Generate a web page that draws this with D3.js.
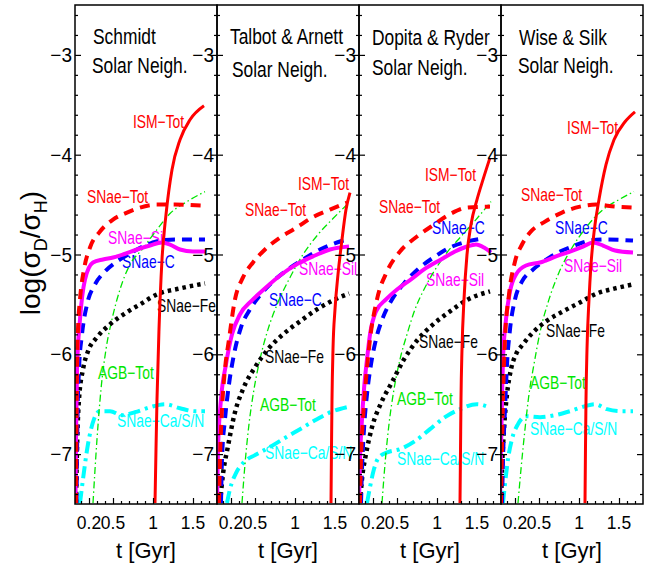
<!DOCTYPE html>
<html>
<head>
<meta charset="utf-8">
<script src="https://cdn.jsdelivr.net/npm/d3@7"></script>
<style>
  html, body { margin: 0; padding: 0; background: #fff; }
  svg { display: block; font-family: "Liberation Sans", Arial, Helvetica, sans-serif; }
</style>
</head>
<body>
<svg id="chart" width="661" height="571"></svg>
<script>
// ---- data: deuterium abundance log(sigma_D/sigma_H) vs time [Gyr] ----
const panelTitles = [
  ["Schmidt", "Solar Neigh."],
  ["Talbot & Arnett", "Solar Neigh."],
  ["Dopita & Ryder", "Solar Neigh."],
  ["Wise & Silk", "Solar Neigh."]
];
const seriesNames = ["ISM−Tot", "SNae−Tot", "SNae−Sil", "SNae−C", "SNae−Fe", "AGB−Tot", "SNae−Ca/S/N"];
const xTickValues = [0.2, 0.5, 1, 1.5];
const xTickLabels = ["0.2", "0.5", "1", "1.5"];
const yTickValues = [-7, -6, -5, -4, -3];

// Schmidt
const schmidtIsmTot = [[1.025,-7.49],[1.0375,-6.95],[1.05,-6.45],[1.075,-5.75],[1.1125,-5.05],[1.1625,-4.6],[1.2375,-4.15],[1.3375,-3.85],[1.4625,-3.65],[1.6375,-3.51]];
const schmidtSnTot = [[0.0375,-7.49],[0.044,-6.65],[0.05,-6.15],[0.0625,-5.75],[0.0875,-5.45],[0.1375,-5.15],[0.2125,-4.93],[0.3375,-4.77],[0.5,-4.65],[0.675,-4.58],[0.8375,-4.53],[1.05,-4.5],[1.275,-4.5],[1.65,-4.51]];
const schmidtSnSil = [[0.031,-7.49],[0.0375,-6.85],[0.05,-6.15],[0.0875,-5.65],[0.15,-5.25],[0.25,-5.08],[0.375,-5.05],[0.5,-5.03],[0.625,-5.0],[0.8,-4.95],[0.9625,-4.91],[1.1125,-4.88],[1.2125,-4.9],[1.3375,-4.95],[1.5,-4.97],[1.65,-4.97]];
const schmidtSnC = [[0.044,-7.49],[0.056,-6.65],[0.075,-6.15],[0.1125,-5.8],[0.175,-5.5],[0.275,-5.3],[0.4,-5.17],[0.55,-5.07],[0.7125,-4.99],[0.9,-4.91],[1.0875,-4.86],[1.275,-4.85],[1.65,-4.85]];
const schmidtSnFe = [[0.0375,-7.49],[0.05,-6.95],[0.075,-6.45],[0.125,-6.15],[0.1875,-5.97],[0.3,-5.83],[0.4625,-5.7],[0.65,-5.59],[0.8375,-5.5],[1.05,-5.4],[1.3375,-5.34],[1.65,-5.29]];
const schmidtAgbTot = [[0.25,-7.49],[0.3,-6.85],[0.35,-6.35],[0.4125,-5.95],[0.4875,-5.65],[0.5875,-5.35],[0.7125,-5.1],[0.8625,-4.95],[1.05,-4.75],[1.2125,-4.59],[1.425,-4.47],[1.65,-4.37]];
const schmidtSnCaSN = [[0.0875,-7.49],[0.125,-7.25],[0.1875,-6.9],[0.2625,-6.65],[0.3375,-6.57],[0.4625,-6.57],[0.6125,-6.61],[0.775,-6.58],[0.9625,-6.53],[1.15,-6.5],[1.3375,-6.54],[1.525,-6.57],[1.65,-6.57]];

// Talbot & Arnett
const talbotIsmTot = [[1.45,-7.49],[1.456,-6.95],[1.4625,-6.45],[1.475,-5.95],[1.5,-5.55],[1.5375,-5.2],[1.5875,-4.85],[1.6375,-4.55],[1.6875,-4.38]];
const talbotSnTot = [[0.05,-7.49],[0.0625,-7.05],[0.0875,-6.55],[0.125,-6.15],[0.175,-5.85],[0.25,-5.45],[0.35,-5.23],[0.475,-5.08],[0.625,-4.95],[0.8125,-4.83],[1.0,-4.74],[1.2125,-4.63],[1.4375,-4.55],[1.65,-4.48]];
const talbotSnSil = [[0.025,-7.49],[0.0375,-6.95],[0.075,-6.45],[0.1375,-6.1],[0.2125,-5.8],[0.3125,-5.6],[0.4625,-5.46],[0.6375,-5.33],[0.8125,-5.21],[1.0375,-5.09],[1.25,-5.01],[1.4375,-4.95],[1.675,-4.92]];
const talbotSnC = [[0.075,-7.49],[0.0875,-7.05],[0.125,-6.65],[0.175,-6.3],[0.2375,-6.0],[0.325,-5.73],[0.4375,-5.55],[0.5625,-5.41],[0.7125,-5.28],[0.875,-5.17],[1.0625,-5.07],[1.3125,-4.95],[1.5625,-4.87],[1.65,-4.85]];
const talbotSnFe = [[0.0625,-7.49],[0.1,-7.2],[0.1625,-6.92],[0.25,-6.58],[0.35,-6.35],[0.5,-6.13],[0.6625,-5.95],[0.85,-5.8],[1.0625,-5.67],[1.275,-5.55],[1.475,-5.46],[1.675,-5.39]];
const talbotAgbTot = [[0.3375,-7.49],[0.375,-7.1],[0.425,-6.7],[0.4875,-6.35],[0.5625,-6.05],[0.6625,-5.75],[0.7875,-5.48],[0.9375,-5.23],[1.1,-5.0],[1.2875,-4.8],[1.475,-4.64],[1.675,-4.48]];
const talbotSnCaSN = [[0.15,-7.49],[0.1875,-7.35],[0.2625,-7.19],[0.3625,-7.08],[0.5,-7.01],[0.6625,-6.94],[0.85,-6.85],[1.0625,-6.75],[1.275,-6.65],[1.475,-6.57],[1.65,-6.53]];

// Dopita & Ryder
const dopitaIsmTot = [[1.2875,-7.49],[1.294,-6.95],[1.3,-6.45],[1.3125,-5.95],[1.3375,-5.45],[1.375,-5.0],[1.425,-4.7],[1.5,-4.45],[1.575,-4.25],[1.6625,-4.03]];
const dopitaSnTot = [[0.0375,-7.49],[0.05,-7.05],[0.075,-6.65],[0.1125,-6.25],[0.1625,-5.85],[0.25,-5.45],[0.375,-5.17],[0.5375,-4.97],[0.75,-4.82],[0.9625,-4.7],[1.175,-4.59],[1.375,-4.53],[1.6625,-4.52]];
const dopitaSnSil = [[0.025,-7.49],[0.0375,-7.05],[0.0625,-6.65],[0.0875,-6.35],[0.125,-6.05],[0.1625,-5.8],[0.2375,-5.57],[0.3625,-5.45],[0.5,-5.35],[0.675,-5.25],[0.8375,-5.15],[1.05,-5.05],[1.225,-4.97],[1.375,-4.92],[1.4875,-4.9],[1.5875,-4.93],[1.675,-4.98]];
const dopitaSnC = [[0.05,-7.49],[0.0625,-7.15],[0.0875,-6.75],[0.125,-6.4],[0.175,-6.1],[0.2375,-5.85],[0.325,-5.63],[0.4375,-5.45],[0.5875,-5.29],[0.7875,-5.13],[0.975,-5.02],[1.1625,-4.93],[1.375,-4.87],[1.5625,-4.84]];
const dopitaSnFe = [[0.0375,-7.49],[0.0625,-7.25],[0.1125,-7.0],[0.1875,-6.73],[0.3,-6.49],[0.4375,-6.28],[0.5875,-6.05],[0.7625,-5.85],[0.9375,-5.71],[1.1625,-5.57],[1.3875,-5.45],[1.6625,-5.37]];
const dopitaAgbTot = [[0.3125,-7.49],[0.35,-7.1],[0.4,-6.7],[0.4625,-6.35],[0.5375,-6.05],[0.625,-5.8],[0.725,-5.55],[0.8375,-5.35],[0.9625,-5.17],[1.125,-4.98],[1.3,-4.82],[1.4875,-4.65],[1.675,-4.47]];
const dopitaSnCaSN = [[0.125,-7.49],[0.1625,-7.33],[0.2125,-7.15],[0.275,-7.03],[0.3875,-6.98],[0.5375,-6.95],[0.725,-6.87],[0.9125,-6.75],[1.1,-6.63],[1.2875,-6.55],[1.5,-6.5],[1.65,-6.53]];

// Wise & Silk
const wiseIsmTot = [[1.075,-7.49],[1.081,-6.95],[1.0875,-6.45],[1.1,-5.95],[1.125,-5.45],[1.15,-5.1],[1.1875,-4.78],[1.25,-4.45],[1.3375,-4.1],[1.4375,-3.85],[1.575,-3.67],[1.7,-3.57]];
const wiseSnTot = [[0.025,-7.49],[0.0375,-6.95],[0.05,-6.45],[0.075,-5.85],[0.125,-5.4],[0.2,-5.07],[0.2875,-4.9],[0.3875,-4.78],[0.575,-4.67],[0.7875,-4.58],[1.0125,-4.52],[1.2125,-4.5],[1.45,-4.52],[1.675,-4.53]];
const wiseSnSil = [[0.0125,-7.49],[0.025,-6.95],[0.0375,-6.45],[0.05,-6.05],[0.0875,-5.65],[0.1375,-5.37],[0.2125,-5.2],[0.3375,-5.11],[0.5125,-5.08],[0.7125,-5.02],[0.8875,-4.97],[1.05,-4.92],[1.175,-4.88],[1.3,-4.91],[1.45,-4.96],[1.675,-4.98]];
const wiseSnC = [[0.0375,-7.49],[0.05,-7.05],[0.075,-6.55],[0.1,-6.1],[0.1375,-5.75],[0.2,-5.45],[0.2875,-5.27],[0.4125,-5.16],[0.575,-5.06],[0.7625,-4.97],[0.95,-4.91],[1.1375,-4.86],[1.325,-4.85],[1.675,-4.86]];
const wiseSnFe = [[0.025,-7.49],[0.0375,-7.15],[0.0625,-6.75],[0.1,-6.4],[0.15,-6.15],[0.2125,-6.0],[0.3,-5.9],[0.425,-5.78],[0.5875,-5.67],[0.8,-5.57],[1.0125,-5.48],[1.225,-5.39],[1.45,-5.34],[1.675,-5.3]];
const wiseAgbTot = [[0.2375,-7.49],[0.275,-7.15],[0.325,-6.75],[0.375,-6.4],[0.4375,-6.1],[0.5125,-5.78],[0.625,-5.45],[0.75,-5.18],[0.9,-4.95],[1.0875,-4.73],[1.3,-4.55],[1.5,-4.45],[1.6875,-4.37]];
const wiseSnCaSN = [[0.05,-7.49],[0.075,-7.3],[0.1125,-7.05],[0.1625,-6.85],[0.2375,-6.7],[0.3375,-6.62],[0.5125,-6.63],[0.7,-6.61],[0.8875,-6.57],[1.075,-6.52],[1.2,-6.5],[1.35,-6.55],[1.5125,-6.57],[1.675,-6.57]];

// ---- layout & styles ----
const margin = {left: 75, top: 5};
const panelW = 142, panelH = 499;
const xDomain = [0.025, 1.8];
const yDomain = [-7.5, -2.5];

// series order: ISM-Tot, SNae-Tot, SNae-Sil, SNae-C, SNae-Fe, AGB-Tot, SNae-Ca/S/N
const seriesStyle = [
  {color: "#ff0000", width: 3,   dash: null},
  {color: "#ff0000", width: 4,   dash: "10,7"},
  {color: "#ff00ff", width: 4,   dash: null},
  {color: "#0000ff", width: 4,   dash: "10,7"},
  {color: "#000000", width: 4.5, dash: "3.5,4"},
  {color: "#00e600", width: 1.3, dash: "7,3,1.5,3"},
  {color: "#00ffff", width: 4,   dash: "12,5,3,5"}
];
const drawOrder = [6, 5, 4, 3, 2, 1, 0];

const panels = [
  {series: [schmidtIsmTot, schmidtSnTot, schmidtSnSil, schmidtSnC, schmidtSnFe, schmidtAgbTot, schmidtSnCaSN],
   titleOffset: [[18, 39], [17, 68]],
   labelAt: [[0.75,-3.73],[0.175,-4.48],[0.4375,-4.89],[0.6125,-5.14],[1.05,-5.58],[0.3125,-6.25],[0.55,-6.73]]},
  {series: [talbotIsmTot, talbotSnTot, talbotSnSil, talbotSnC, talbotSnFe, talbotAgbTot, talbotSnCaSN],
   titleOffset: [[13, 39], [15, 72]],
   labelAt: [[1.0375,-4.35],[0.375,-4.61],[1.05,-5.21],[0.675,-5.52],[0.625,-6.09],[0.5625,-6.57],[0.625,-7.05]]},
  {series: [dopitaIsmTot, dopitaSnTot, dopitaSnSil, dopitaSnC, dopitaSnFe, dopitaAgbTot, dopitaSnCaSN],
   titleOffset: [[13, 40], [13, 70]],
   labelAt: [[0.85,-4.26],[0.275,-4.58],[0.8625,-5.32],[0.9375,-4.79],[0.775,-5.94],[0.5,-6.51],[0.5,-7.11]]},
  {series: [wiseIsmTot, wiseSnTot, wiseSnSil, wiseSnC, wiseSnFe, wiseAgbTot, wiseSnCaSN],
   titleOffset: [[18, 40], [17, 68]],
   labelAt: [[0.85,-3.79],[0.275,-4.46],[0.8125,-5.18],[0.7,-4.79],[0.5875,-5.83],[0.3875,-6.35],[0.3875,-6.81]]}
];

const svg = d3.select("#chart");

// text with horizontal compression (narrow face look)
function narrowText(g, x, y, str, size, sx, color, anchor) {
  return g.append("text")
    .attr("transform", `translate(${x},${y}) scale(${sx},1)`)
    .attr("font-size", size)
    .attr("fill", color || "#000")
    .attr("text-anchor", anchor || "start")
    .text(str);
}

const y = d3.scaleLinear().domain(yDomain).range([panelH, 0]);
const yMinor = d3.range(-7.4, -2.5, 0.2).map(v => +v.toFixed(1)).filter(v => !yTickValues.includes(v));
const xMinor = d3.range(0.1, 1.75, 0.1).map(v => +v.toFixed(1)).filter(v => !xTickValues.includes(v));

panels.forEach((p, i) => {
  const x0 = margin.left + i * panelW;
  const g = svg.append("g").attr("transform", `translate(${x0},${margin.top})`);
  const x = d3.scaleLinear().domain(xDomain).range([0, panelW]);

  const clipId = "clip" + i;
  g.append("clipPath").attr("id", clipId)
    .append("rect").attr("width", panelW).attr("height", panelH);

  // curve labels (drawn below the curves)
  const lbl = g.append("g");
  p.labelAt.forEach((pos, k) => {
    narrowText(lbl, x(pos[0]), y(pos[1]), seriesNames[k], 18, 0.77, seriesStyle[k].color);
  });

  // curves
  const line = d3.line().x(d => x(d[0])).y(d => y(d[1])).curve(d3.curveMonotoneX);
  const curves = g.append("g").attr("clip-path", `url(#${clipId})`);
  drawOrder.forEach(k => {
    const s = seriesStyle[k];
    curves.append("path")
      .datum(p.series[k])
      .attr("d", line)
      .attr("fill", "none")
      .attr("stroke", s.color)
      .attr("stroke-width", s.width)
      .attr("stroke-dasharray", s.dash)
      .attr("stroke-linejoin", "round");
  });

  // titles
  p.titleOffset.forEach((off, k) => {
    narrowText(g, off[0], off[1], panelTitles[i][k], 22, 0.79, "#000");
  });

  // axes: left & right inward ticks, bottom inward ticks
  const axL = d3.axisRight(y).tickValues(yTickValues).tickSize(6).tickFormat("");
  const axLm = d3.axisRight(y).tickValues(yMinor).tickSize(3).tickFormat("");
  const axR = d3.axisLeft(y).tickValues(yTickValues).tickSize(6).tickFormat("");
  const axRm = d3.axisLeft(y).tickValues(yMinor).tickSize(3).tickFormat("");
  const axB = d3.axisTop(x).tickValues(xTickValues).tickSize(6).tickFormat("");
  const axBm = d3.axisTop(x).tickValues(xMinor).tickSize(3).tickFormat("");
  [[axL, 0, 0], [axLm, 0, 0], [axR, panelW, 0], [axRm, panelW, 0], [axB, 0, panelH], [axBm, 0, panelH]]
    .forEach(([ax, tx, ty]) => {
      const a = g.append("g").attr("transform", `translate(${tx},${ty})`).call(ax);
      a.select(".domain").remove();
      a.selectAll("line").attr("stroke", "#000").attr("stroke-width", 1.2);
    });

  // y tick labels to the left of each panel
  yTickValues.forEach(v => {
    narrowText(g, -3, y(v) + 7, "−" + Math.abs(v), 20, 0.95, "#000", "end");
  });

  // x tick labels
  xTickValues.forEach((v, k) => {
    narrowText(g, x(v), panelH + 25, xTickLabels[k], 19, 0.92, "#000", "middle");
  });

  // x axis title
  g.append("text")
    .attr("x", panelW / 2).attr("y", panelH + 54)
    .attr("text-anchor", "middle").attr("font-size", 22)
    .text("t [Gyr]");

  // frame
  g.append("rect").attr("width", panelW).attr("height", panelH)
    .attr("fill", "none").attr("stroke", "#000").attr("stroke-width", 1.5);
});

// y axis title: log(σ_D/σ_H)
const yt = svg.append("text")
  .attr("transform", "translate(40,253) rotate(-90)")
  .attr("text-anchor", "middle").attr("font-size", 28);
yt.append("tspan").text("log(σ");
yt.append("tspan").attr("font-size", 18).attr("dy", 7).text("D");
yt.append("tspan").attr("dy", -7).text("/σ");
yt.append("tspan").attr("font-size", 18).attr("dy", 7).text("H");
yt.append("tspan").attr("dy", -7).text(")");
</script>
</body>
</html>
